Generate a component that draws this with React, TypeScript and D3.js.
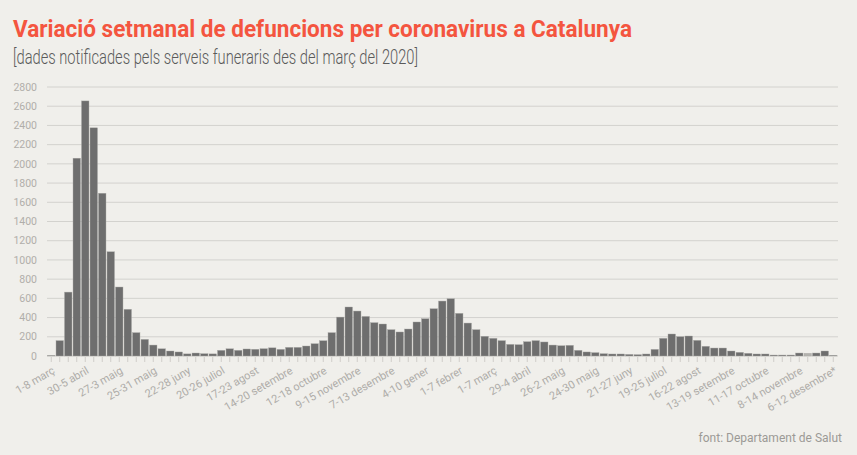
import React from "react";
import * as d3 from "d3";

const deaths: number[] = [
  5, 160, 665, 2059, 2655, 2375, 1694, 1085, 718, 486,
  243, 173, 114, 75, 52, 42, 22, 31, 24, 22,
  59, 75, 59, 73, 70, 76, 85, 69, 90, 90,
  104, 128, 159, 243, 405, 510, 468, 412, 347, 333,
  274, 250, 281, 354, 388, 492, 572, 596, 444, 343,
  274, 205, 184, 160, 121, 118, 149, 160, 146, 114,
  107, 111, 59, 42, 35, 24, 21, 21, 17, 14,
  21, 69, 184, 229, 201, 208, 163, 101, 83, 83,
  52, 38, 28, 21, 21, 10, 10, 10, 31, 28,
  31, 52, 7,
];

const tickLabels: string[] = [
  "1-8 març", "30-5 abril", "27-3 maig", "25-31 maig", "22-28 juny", "20-26 juliol",
  "17-23 agost", "14-20 setembre", "12-18 octubre", "9-15 novembre", "7-13 desembre",
  "4-10 gener", "1-7 febrer", "1-7 març", "29-4 abril", "26-2 maig", "24-30 maig",
  "21-27 juny", "19-25 juliol", "16-22 agost", "13-19 setembre", "11-17 octubre",
  "8-14 novembre", "6-12 desembre*",
];

const yTicks: number[] = d3.range(0, 2801, 200);
const highlighted: number[] = [89];

const W = 857;
const H = 455;

export default function App() {
  const idx = deaths.map((_, i) => i);
  const x = d3.scaleBand<number>().domain(idx).range([47, 837.5]).paddingInner(0.12).paddingOuter(0.06);
  const y = d3.scaleLinear().domain([0, 2800]).range([356, 87]);
  const font = "Roboto, 'Noto Sans', sans-serif";
  return (
    <svg width={W} height={H} style={{ position: "absolute", left: 0, top: 0, background: "#f0efeb" }} fontFamily={font}>
      <rect x={0} y={0} width={W} height={H} fill="#f0efeb" />
      <text x={13} y={37} fontSize={24} fontWeight={700} fill="#f4553f" textLength={619} lengthAdjust="spacingAndGlyphs">
        Variació setmanal de defuncions per coronavirus a Catalunya
      </text>
      <text x={13} y={63.5} fontSize={20} fontWeight={300} fill="#5a5a5a" textLength={405} lengthAdjust="spacingAndGlyphs">
        [dades notificades pels serveis funeraris des del març del 2020]
      </text>
      {yTicks.map((t) => (
        <g key={t}>
          <line x1={47} x2={838} y1={y(t)} y2={y(t)} stroke="#d3d2ce" strokeWidth={1} />
          <text x={37} y={y(t)} dy="0.35em" textAnchor="end" fontSize={10.5} fill="#b0aeaa">
            {t}
          </text>
        </g>
      ))}
      {idx.map((i) => (
        <line key={"t" + i} x1={x(i)! + x.bandwidth() / 2} x2={x(i)! + x.bandwidth() / 2} y1={357} y2={362} stroke="#cfcdc9" strokeWidth={1} />
      ))}
      {deaths.map((v, i) => (
        <rect
          key={i}
          x={x(i)}
          y={y(v)}
          width={x.bandwidth()}
          height={y(0) - y(v)}
          fill={highlighted.includes(i) ? "#b3b2ae" : "#6e6e6e"}
          stroke="#a9a8a5"
          strokeWidth={0.4}
        />
      ))}
      {tickLabels.map((lab, k) => {
        const i = k * 4;
        const cx = x(i)! + x.bandwidth() / 2;
        return (
          <text key={lab} transform={`translate(${cx + 1},${367}) rotate(-30)`} textAnchor="end" dy="0.6em" fontSize={11} fill="#aeaca8">
            {lab}
          </text>
        );
      })}
      <text x={842} y={442} textAnchor="end" fontSize={12} fill="#9c9a96">
        font: Departament de Salut
      </text>
    </svg>
  );
}
